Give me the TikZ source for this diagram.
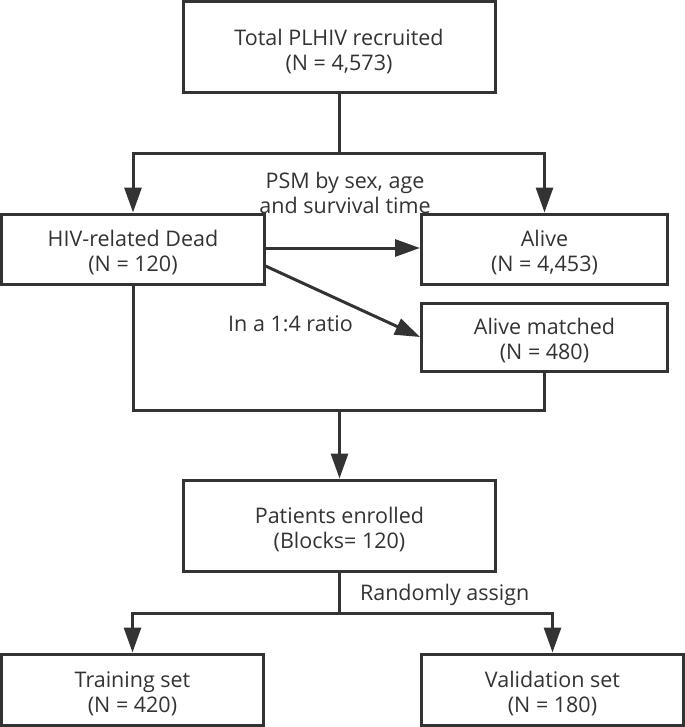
\documentclass[tikz,border=0pt]{standalone}
\usepackage{fontspec}
\setmainfont{Open Sans}
\usetikzlibrary{arrows.meta}
\definecolor{ink}{HTML}{333333}
\newcommand{\topstrut}{\rule{0pt}{24bp}}
\tikzset{
  box/.style={draw=ink, line width=3bp, fill=white, align=center, text=ink,
    minimum width=#1, inner sep=0pt, font=\fontsize{21.5bp}{25bp}\selectfont},
  lbl/.style={align=center, text=ink, inner sep=0pt, font=\fontsize{21.5bp}{25bp}\selectfont},
  conn/.style={draw=ink, line width=3bp},
  arr/.style={conn, -{Triangle[length=25bp,width=17bp]}}
}
\begin{document}
\begin{tikzpicture}[x=1bp,y=-1bp]
\useasboundingbox (0,0) rectangle (685,727);
\node[box=312bp, minimum height=91bp] (top) at (339,47.5) {\topstrut Total PLHIV recruited\\(N = 4,573)};
\node[box=262bp, minimum height=70bp] (dead) at (133,249) {\topstrut HIV-related Dead\\(N = 120)};
\node[box=246bp, minimum height=70bp] (alive) at (544.5,249) {\topstrut Alive\\(N = 4,453)};
\node[box=246bp, minimum height=68bp] (matched) at (544.5,337) {\topstrut Alive matched\\(N = 480)};
\node[box=312bp, minimum height=91bp] (enrolled) at (339.5,525.5) {\topstrut Patients enrolled\\(Blocks= 120)};
\node[box=262bp, minimum height=71bp] (training) at (132.5,689.5) {\topstrut Training set\\(N = 420)};
\node[box=262bp, minimum height=71bp] (validation) at (552.5,689.5) {\topstrut Validation set\\(N = 180)};

\node[lbl] (psm) at (345,193) {PSM by sex, age\\and survival time};
\node[lbl] (ratio) at (290.5,324) {In a 1:4 ratio};
\node[lbl] (rand) at (444.7,595) {Randomly assign};

\coordinate (j1) at (339,153);
\coordinate (j2) at (339.5,410);
\coordinate (j3) at (339.5,613);

\draw[conn] (top.south) -- (j1);
\draw[arr] (j1) -| (dead.north);
\draw[arr] (j1) -| (alive.north);
\draw[arr] ([yshift=1bp]dead.east) -- ([yshift=1bp]alive.west);
\draw[arr] ([yshift=-17bp]dead.east) -- (matched.west);
\draw[conn] (dead.south) |- (j2);
\draw[conn] (matched.south) |- (j2);
\draw[arr] (j2) -- (enrolled.north);
\draw[conn] (enrolled.south) -- (j3);
\draw[arr] (j3) -| (training.north);
\draw[arr] (j3) -| (validation.north);
\end{tikzpicture}
\end{document}
